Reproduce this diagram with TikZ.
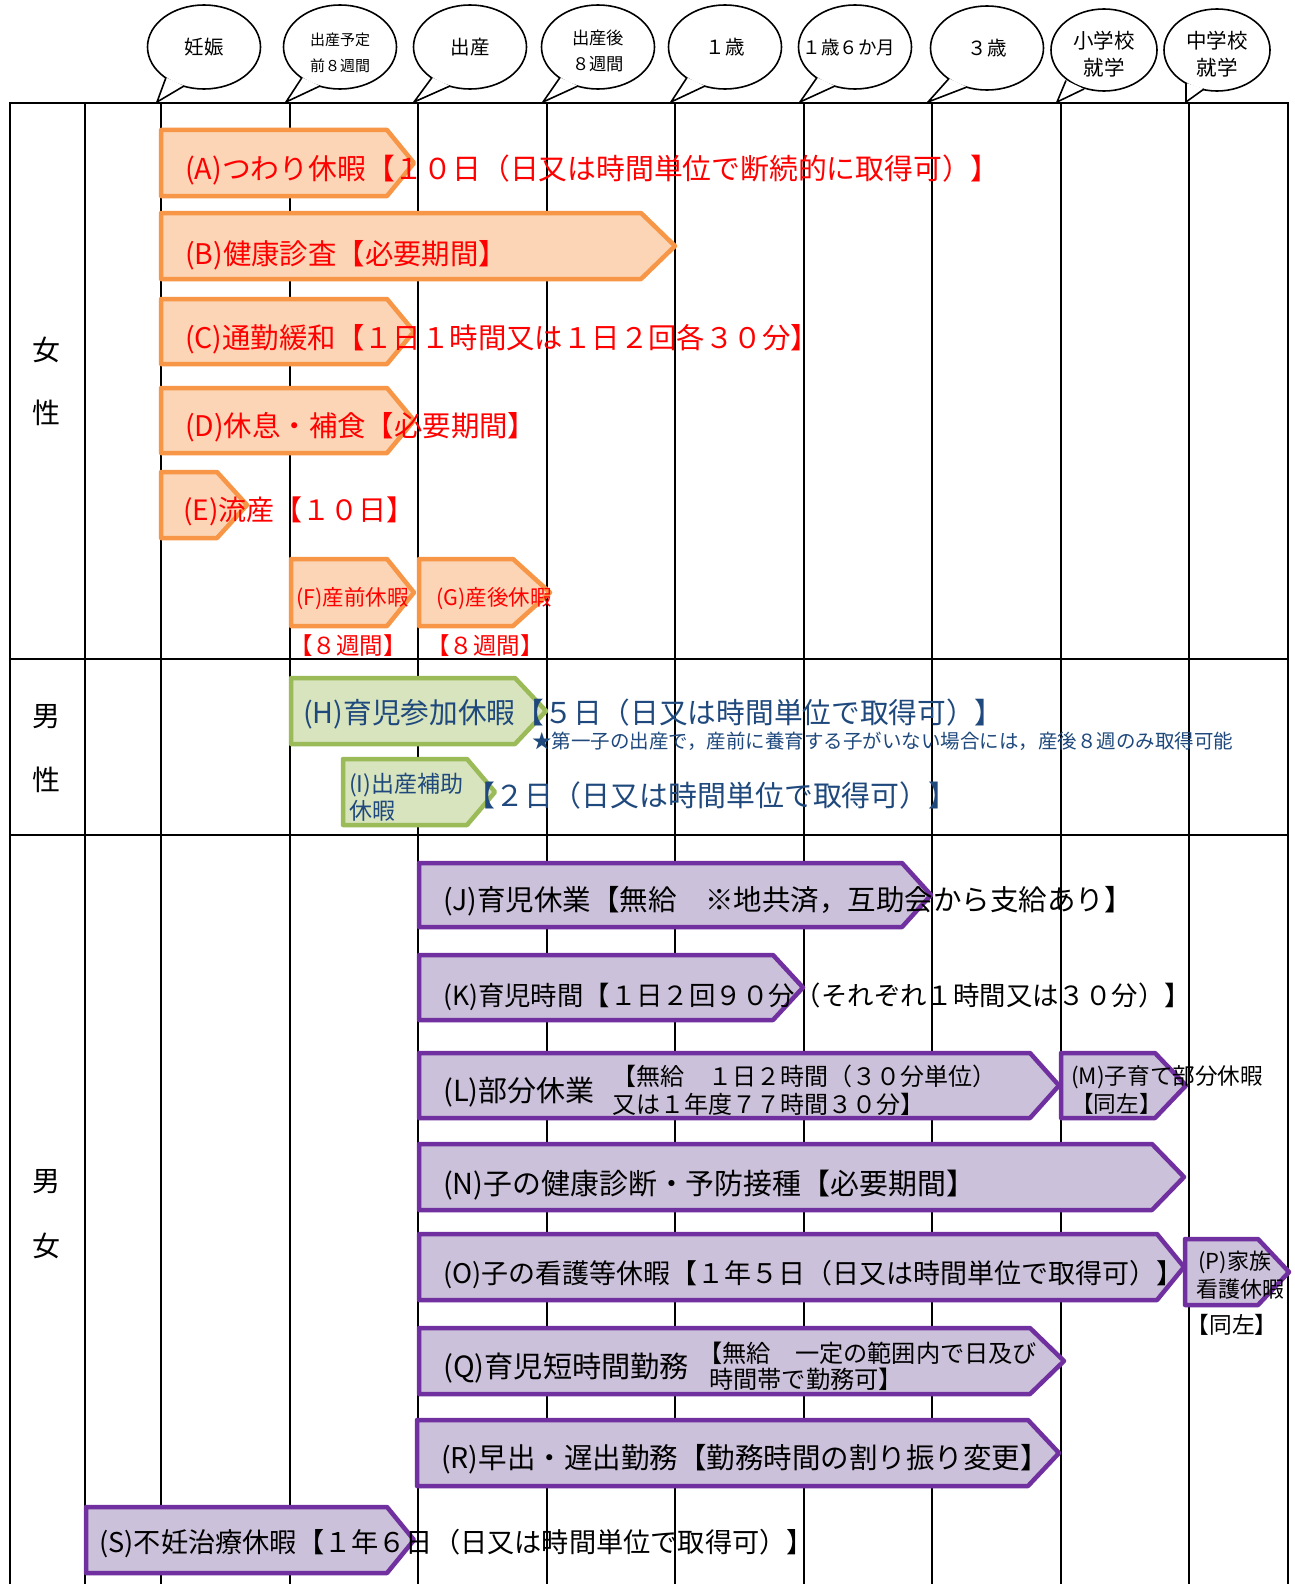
\documentclass[tikz,border=0pt]{standalone}
\usepackage{fontspec}
\setmainfont{Noto Sans CJK JP}
\usetikzlibrary{shapes.geometric,calc}
\definecolor{orfill}{HTML}{FBD5B5}
\definecolor{orline}{HTML}{F79646}
\definecolor{grfill}{HTML}{D7E4BD}
\definecolor{grline}{HTML}{9BBB59}
\definecolor{pufill}{HTML}{CCC1DA}
\definecolor{puline}{HTML}{7030A0}
\definecolor{bltext}{HTML}{1F497D}
\definecolor{redtext}{HTML}{FF0000}
\newcommand\myfs[1]{\fontsize{#1}{#1}\selectfont}
\newcommand\pent[6]{\draw[#1] (#2,#3) -- (#5,#3) -- (#6,{(#3+#4)/2}) -- (#5,#4) -- (#2,#4) -- cycle;}
\tikzset{
  tbl/.style={line width=2pt, black},
  orarr/.style={fill=orfill, draw=orline, line width=4.5pt, line join=round},
  grarr/.style={fill=grfill, draw=grline, line width=4.5pt, line join=round},
  puarr/.style={fill=pufill, draw=puline, line width=4.5pt, line join=round},
  bubble/.style={ellipse, draw, line width=1.6pt, fill=white, inner sep=0pt, minimum width=113pt, minimum height=84pt, align=center},
  sbubble/.style={bubble, minimum width=106pt, minimum height=82pt},
  btext/.style={inner sep=0pt, align=center},
  lbl/.style={anchor=west, inner sep=0pt, font=\myfs{27}},
  redlbl/.style={lbl, text=redtext},
  side/.style={inner sep=0pt, font=\myfs{28}},
  tailline/.style={line width=1.6pt, line join=miter},
}
\begin{document}
\begin{tikzpicture}[x=1pt,y=-1pt]
\useasboundingbox (0,0) rectangle (1295,1584);
\fill[white] (0,0) rectangle (1295,1584);
% table
\foreach \x in {10,85,161,290,418,547,675,804,932,1061,1189,1288}
  \draw[tbl] (\x,103) -- (\x,1584);
\draw[tbl] (9,103) -- (1289,103);
\draw[tbl] (9,659) -- (1289,659);
\draw[tbl] (9,835) -- (1289,835);
% side labels
\node[side] (w1) at (46,350) {女};
\node[side] (w2) at (46,413) {性};
\node[side] (m1) at (46,717) {男};
\node[side] (m2) at (46,780) {性};
\node[side] (b1s) at (46,1182) {男};
\node[side] (b2s) at (46,1246) {女};
% bubbles
\node[bubble] (b1) at (204,47) {};
\node[bubble] (b2) at (340,47) {};
\node[bubble] (b3) at (470,47) {};
\node[bubble] (b4) at (598,47) {};
\node[bubble] (b5) at (725,47) {};
\node[bubble] (b6) at (855,47) {};
\node[bubble] (b7) at (987,48) {};
\node[sbubble] (b8) at (1104,50) {};
\node[sbubble] (b9) at (1217,50) {};
\foreach \i/\tx in {1/157,2/286,3/414,4/543,5/671,6/800,7/928,8/1057}{
  \coordinate (t\i) at (\tx,102);
  \coordinate (l\i) at ($(b\i)+(-38,30.5)$);
  \coordinate (r\i) at ($(b\i)+(-20,39)$);
}
\coordinate (t9) at (1186,102);
\coordinate (l9) at ($(b9)+(-31,33)$);
\coordinate (r9) at ($(b9)+(-13,39)$);
\foreach \i in {1,...,9}{
  \fill[white] (l\i) -- (t\i) -- (r\i) -- cycle;
  \draw[tailline] (l\i) -- (t\i) -- (r\i);
}
\node[btext, font=\myfs{19.5}] (q1) at (b1) {妊娠};
\node[btext, font=\myfs{15}] (q2) at ($(b2)+(0,6)$) {出産予定\\[11pt]前８週間};
\node[btext, font=\myfs{19.5}] (q3) at (b3) {出産};
\node[btext, font=\myfs{17.3}] (q4) at ($(b4)+(0,4)$) {出産後\\[9.5pt]８週間};
\node[btext, font=\myfs{19.5}] (q5) at (b5) {１歳};
\node[btext, font=\myfs{18.5}] (q6) at ($(b6)+(-6,0)$) {１歳６か月};
\node[btext, font=\myfs{19.5}] (q7) at (b7) {３歳};
\node[btext, font=\myfs{20.5}] (q8) at ($(b8)+(0,4)$) {小学校\\[6pt]就学};
\node[btext, font=\myfs{20.5}] (q9) at ($(b9)+(0,4)$) {中学校\\[6pt]就学};
% female arrows
\pent{orarr}{161}{130}{196}{387}{414}
\pent{orarr}{161}{213}{279}{641}{675}
\pent{orarr}{161}{299}{364}{387}{414}
\pent{orarr}{161}{388}{453}{387}{414}
\pent{orarr}{161}{472}{538}{217}{247}
\pent{orarr}{291}{559}{626}{387}{414}
\pent{orarr}{419}{559}{626}{513}{550}
\node[redlbl, font=\myfs{28.8}] (tA) at (185,170) {(A)つわり休暇【１０日（日又は時間単位で断続的に取得可）】};
\node[redlbl, font=\myfs{28.4}] (tB) at (185,255) {(B)健康診査【必要期間】};
\node[redlbl, font=\myfs{28.4}] (tC) at (185,339) {(C)通勤緩和【１日１時間又は１日２回各３０分】};
\node[redlbl, font=\myfs{28.4}] (tD) at (185,427) {(D)休息・補食【必要期間】};
\node[redlbl, font=\myfs{28}] (tE) at (183,511) {(E)流産【１０日】};
\node[redlbl, font=\myfs{21.5}] (tF) at (296,599) {(F)産前休暇};
\node[redlbl, font=\myfs{21.5}] (tG) at (436,599) {(G)産後休暇};
\node[inner sep=0pt, text=redtext, font=\myfs{23.5}] (tF2) at (348,646) {【８週間】};
\node[inner sep=0pt, text=redtext, font=\myfs{23.5}] (tG2) at (485,646) {【８週間】};
% male arrows
\pent{grarr}{291}{678}{744}{515}{546}
\pent{grarr}{343}{759}{825}{467}{495}
\node[lbl, text=bltext, font=\myfs{28.7}] (tH) at (303,714) {(H)育児参加休暇【５日（日又は時間単位で取得可）】};
\node[lbl, text=bltext, font=\myfs{19.5}] (tH2) at (532,741) {★第一子の出産で，産前に養育する子がいない場合には，産後８週のみ取得可能};
\node[lbl, text=bltext, font=\myfs{23}, align=left] (tI) at (349,797) {(I)出産補助\\[2pt]休暇};
\node[lbl, text=bltext, font=\myfs{28.9}] (tI2) at (466,796) {【２日（日又は時間単位で取得可）】};
% both arrows
\pent{puarr}{419}{863}{927}{902}{931}
\pent{puarr}{419}{955}{1020}{773}{803}
\pent{puarr}{419}{1053}{1118}{1030}{1059}
\pent{puarr}{1061}{1053}{1118}{1155}{1186}
\pent{puarr}{419}{1144}{1210}{1152}{1184}
\pent{puarr}{419}{1234}{1300}{1157}{1184}
\pent{puarr}{1185}{1239}{1305}{1258}{1289}
\pent{puarr}{419}{1328}{1394}{1030}{1064}
\pent{puarr}{417}{1420}{1486}{1028}{1059}
\pent{puarr}{86}{1507}{1573}{387}{414}
\node[lbl, font=\myfs{28.5}] (tJ) at (443,901) {(J)育児休業【無給　※地共済，互助会から支給あり】};
\node[lbl, font=\myfs{26.4}] (tK) at (443,997) {(K)育児時間【１日２回９０分（それぞれ１時間又は３０分）】};
\node[lbl, font=\myfs{29}] (tL) at (443,1092) {(L)部分休業};
\node[lbl, font=\myfs{24}, align=left] (tL2) at (612,1090) {【無給　１日２時間（３０分単位）\\[4pt]又は１年度７７時間３０分】};
\node[lbl, font=\myfs{22.6}, align=left] (tM) at (1071,1090) {(M)子育て部分休暇\\[3pt]【同左】};
\node[lbl, font=\myfs{28.9}] (tN) at (443,1185) {(N)子の健康診断・予防接種【必要期間】};
\node[lbl, font=\myfs{27}] (tO) at (443,1275) {(O)子の看護等休暇【１年５日（日又は時間単位で取得可）】};
\node[lbl, font=\myfs{22}, align=left] (tP) at (1196,1275) {\hspace{2pt}(P)家族\\[4pt]看護休暇};
\node[inner sep=0pt, font=\myfs{22.7}] (tP2) at (1232,1325) {【同左】};
\node[lbl, font=\myfs{29.2}] (tQ) at (443,1368) {(Q)育児短時間勤務};
\node[lbl, font=\myfs{24.2}, align=left] (tQ2) at (698,1366) {【無給　一定の範囲内で日及び\\[2pt]\hspace{11pt}時間帯で勤務可】};
\node[lbl, font=\myfs{28.5}] (tR) at (441,1459) {(R)早出・遅出勤務【勤務時間の割り振り変更】};
\node[lbl, font=\myfs{27.2}] (tS) at (99,1544) {(S)不妊治療休暇【１年６日（日又は時間単位で取得可）】};
\end{tikzpicture}
\end{document}
